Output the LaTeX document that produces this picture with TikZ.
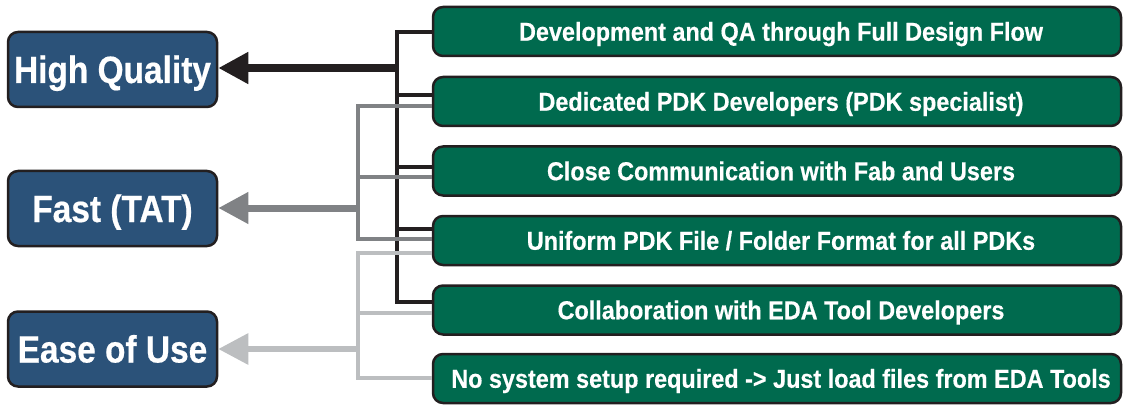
\documentclass[tikz,border=0pt]{standalone}
\usepackage{fontspec}
\setmainfont{Liberation Sans}
\newfontfamily\goalfont{Liberation Sans}[FakeStretch=0.88,FakeBold=0.5]
\newfontfamily\itemfont{Liberation Sans}[FakeStretch=0.9,FakeBold=0.4]
\usetikzlibrary{arrows.meta,calc}
\definecolor{qblue}{RGB}{43,82,121}
\definecolor{qgreen}{RGB}{0,106,78}
\definecolor{qdark}{RGB}{35,31,32}
\definecolor{qgray}{RGB}{128,130,133}
\definecolor{qlight}{RGB}{188,190,192}
\begin{document}
\begin{tikzpicture}[x=1pt,y=-1pt,
  goal/.style={draw=qdark,line width=2.5pt,fill=qblue,rounded corners=10pt,
    minimum width=209pt,minimum height=75pt,inner sep=0pt,text=white,
    text height=27pt,text depth=0pt,
    font=\goalfont\bfseries\fontsize{38}{40}\selectfont},
  item/.style={draw=qdark,line width=2.5pt,fill=qgreen,rounded corners=10pt,
    minimum width=688pt,minimum height=49pt,inner sep=0pt,text=white,
    text height=18.5pt,text depth=0pt,
    font=\itemfont\bfseries\fontsize{26}{28}\selectfont},
  blk/.style={draw=qdark,line width=4pt},
  gry/.style={draw=qgray,line width=4pt},
  lgt/.style={draw=qlight,line width=4pt}]
\useasboundingbox (0,0) rectangle (1131,406);
\node[goal] (hq) at (112.5,69.5) {High Quality};
\node[goal] (fast) at (112.5,208.5) {Fast (TAT)};
\node[goal] (ease) at (112.5,349) {Ease of Use};
\node[item] (g1) at (777,31.5) {\hspace*{8pt}Development and QA through Full Design Flow};
\node[item] (g2) at (777,101.5) {\hspace*{8pt}Dedicated PDK Developers (PDK specialist)};
\node[item] (g3) at (777,171) {\hspace*{8pt}Close Communication with Fab and Users};
\node[item] (g4) at (777,240.5) {\hspace*{8pt}Uniform PDK File / Folder Format for all PDKs};
\node[item] (g5) at (777,310) {\hspace*{8pt}Collaboration with EDA Tool Developers};
\node[item] (g6) at (777,378.5) {\hspace*{8pt}No system setup required -> Just load files from EDA Tools};
% black tree
\coordinate (b1) at (397,32);
\coordinate (b5) at (397,302);
\coordinate (bh) at (397,68);
\draw[blk,line cap=rect] (b1) -- (b5);
\draw[blk] (b1) -- (g1.west|-b1);
\draw[blk] (397,95) -- (g2.west|-{(0,95)});
\draw[blk] (397,167) -- (g3.west|-{(0,167)});
\draw[blk] (397,229) -- (g4.west|-{(0,229)});
\draw[blk] (b5) -- (g5.west|-b5);
\draw[draw=qdark,line width=8pt,-{Triangle[length=30pt,width=30pt]}] (bh) -- (hq.east|-bh);
% medium gray tree
\coordinate (m1) at (358,106);
\coordinate (m4) at (358,239);
\coordinate (mh) at (358,208);
\draw[gry] (g2.west|-m1) -- (m1) -- (m4) -- (g4.west|-m4);
\draw[gry] (358,177) -- (g3.west|-{(0,177)});
\draw[draw=qgray,line width=7pt,-{Triangle[length=30pt,width=30pt]}] (mh) -- (fast.east|-mh);
% light gray tree
\coordinate (l1) at (358,253);
\coordinate (l6) at (358,378);
\coordinate (lh) at (358,349);
\draw[lgt] (g4.west|-l1) -- (l1) -- (l6) -- (g6.west|-l6);
\draw[lgt] (358,313) -- (g5.west|-{(0,313)});
\draw[draw=qlight,line width=6pt,-{Triangle[length=30pt,width=30pt]}] (lh) -- (ease.east|-lh);
\end{tikzpicture}
\end{document}
